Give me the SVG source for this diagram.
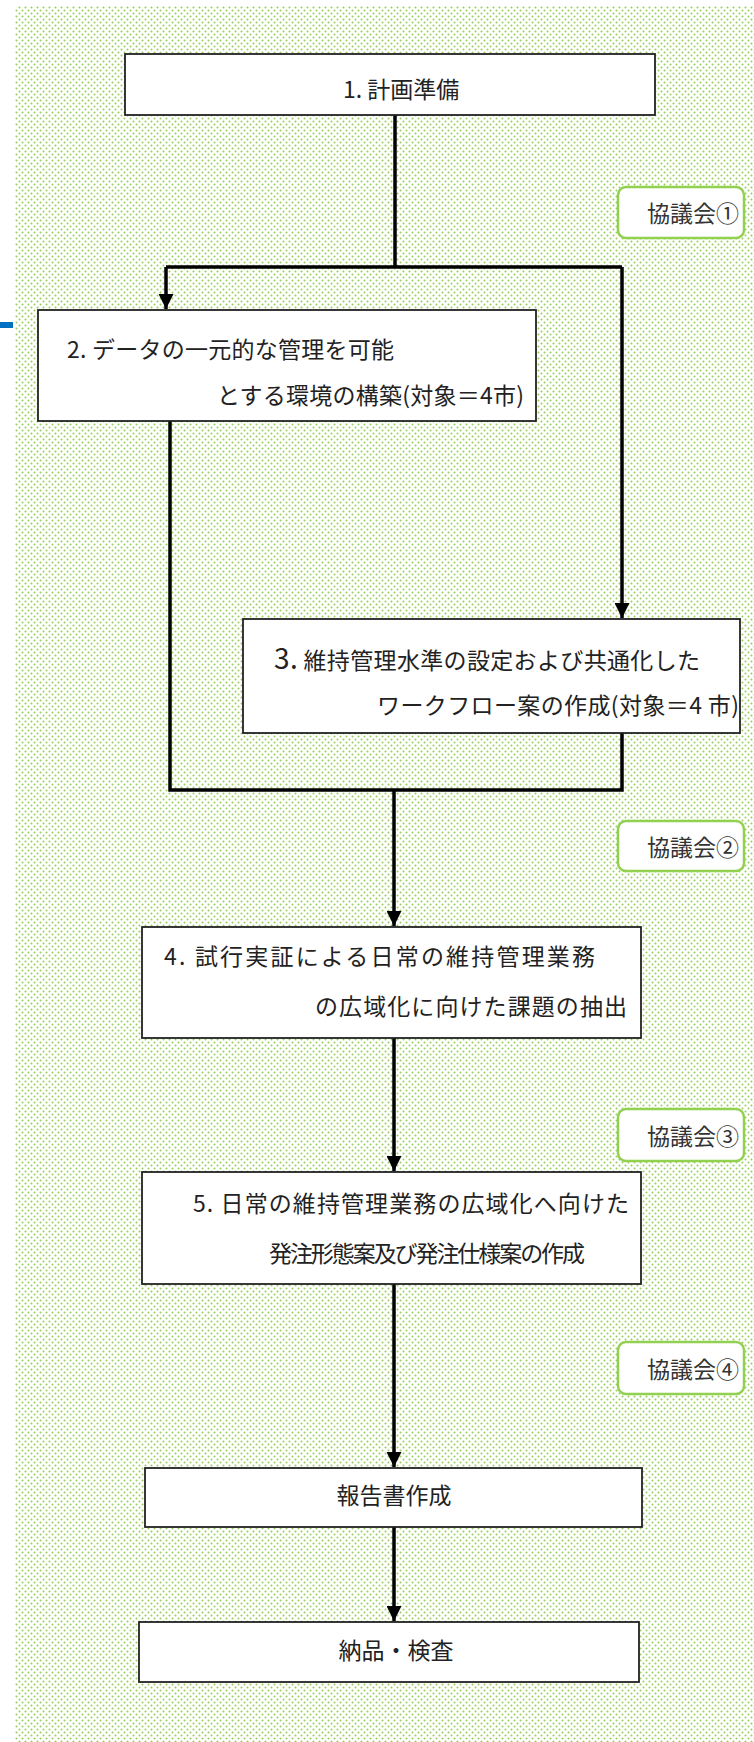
<svg xmlns="http://www.w3.org/2000/svg" width="754" height="1742" viewBox="0 0 754 1742">
<defs>
<pattern id="dots" x="0" y="0" width="6" height="6" patternUnits="userSpaceOnUse">
<rect width="6" height="6" fill="#ffffff"/>
<circle cx="1.5" cy="1.5" r="1" fill="#98cc58"/>
<circle cx="4.5" cy="4.5" r="1" fill="#98cc58"/>
</pattern>
<marker id="arr" viewBox="0 0 10 10" refX="10" refY="5" markerWidth="15" markerHeight="15" markerUnits="userSpaceOnUse" orient="auto">
<path d="M0,0 L10,5 L0,10 Z" fill="#000"/>
</marker>
<style>
.box{fill:#fff;stroke:#222;stroke-width:1.8}
.kyo{fill:#fff;stroke:#92d050;stroke-width:2.5}
.t{font-family:"Noto Sans CJK JP","Noto Sans",sans-serif;font-size:23px;fill:#222}
.k{font-family:"Noto Sans CJK JP",sans-serif;font-size:23px;fill:#333}
.ln{fill:none;stroke:#000;stroke-width:3.5}
</style>
</defs>
<rect x="15" y="6" width="739" height="1736" fill="url(#dots)"/>
<rect x="0" y="322" width="13" height="6" fill="#0070c0"/>

<g id="connectors">
<path class="ln" d="M395,115 V267"/>
<path class="ln" d="M166,267 H622"/>
<path class="ln" d="M166,267 V309" marker-end="url(#arr)"/>
<path class="ln" d="M622,267 V618" marker-end="url(#arr)"/>
<path class="ln" d="M170,421 V790 H622 V733"/>
<path class="ln" d="M394,790 V926" marker-end="url(#arr)"/>
<path class="ln" d="M394,1038 V1171" marker-end="url(#arr)"/>
<path class="ln" d="M394,1284 V1467" marker-end="url(#arr)"/>
<path class="ln" d="M394,1527 V1621" marker-end="url(#arr)"/>
</g>

<g id="n1">
<rect class="box" x="125" y="54" width="530" height="61"/>
<text class="t" x="343" y="98">1. 計画準備</text>
</g>
<g id="n2">
<rect class="box" x="38" y="310" width="498" height="111"/>
<text class="t" x="67" y="358" textLength="327">2. データの一元的な管理を可能</text>
<text class="t" x="217" y="404" textLength="307">とする環境の構築(対象＝4市)</text>
</g>
<g id="n3">
<rect class="box" x="243" y="619" width="497" height="114"/>
<text class="t" x="274" y="669" font-size="23.4" textLength="426"><tspan font-size="28">3.</tspan> 維持管理水準の設定および共通化した</text>
<text class="t" x="377" y="714" font-size="23.6" textLength="362">ワークフロー案の作成(対象＝4 市)</text>
</g>
<g id="n4">
<rect class="box" x="142" y="927" width="499" height="111"/>
<text class="t" x="164" y="965" font-size="23.6" textLength="431">4. 試行実証による日常の維持管理業務</text>
<text class="t" x="315" y="1015" textLength="312">の広域化に向けた課題の抽出</text>
</g>
<g id="n5">
<rect class="box" x="142" y="1172" width="499" height="112"/>
<text class="t" x="193" y="1212" font-size="24" textLength="436">5. 日常の維持管理業務の広域化へ向けた</text>
<text class="t" x="269" y="1262" font-size="21.5" textLength="316">発注形態案及び発注仕様案の作成</text>
</g>
<g id="n6">
<rect class="box" x="145" y="1468" width="497" height="59"/>
<text class="t" x="394" y="1504" text-anchor="middle" font-size="19.5">報告書作成</text>
</g>
<g id="n7">
<rect class="box" x="139" y="1622" width="500" height="60"/>
<text class="t" x="396" y="1659" text-anchor="middle" font-size="19.5">納品・検査</text>
</g>
<g id="k1">
<rect class="kyo" x="618" y="187" width="126" height="51" rx="8"/>
<text class="k" x="647" y="222">協議会①</text>
</g>
<g id="k2">
<rect class="kyo" x="618" y="821" width="126" height="50" rx="8"/>
<text class="k" x="647" y="856">協議会②</text>
</g>
<g id="k3">
<rect class="kyo" x="618" y="1109" width="126" height="52" rx="8"/>
<text class="k" x="647" y="1145">協議会③</text>
</g>
<g id="k4">
<rect class="kyo" x="618" y="1342" width="126" height="52" rx="8"/>
<text class="k" x="647" y="1378">協議会④</text>
</g>
</svg>
